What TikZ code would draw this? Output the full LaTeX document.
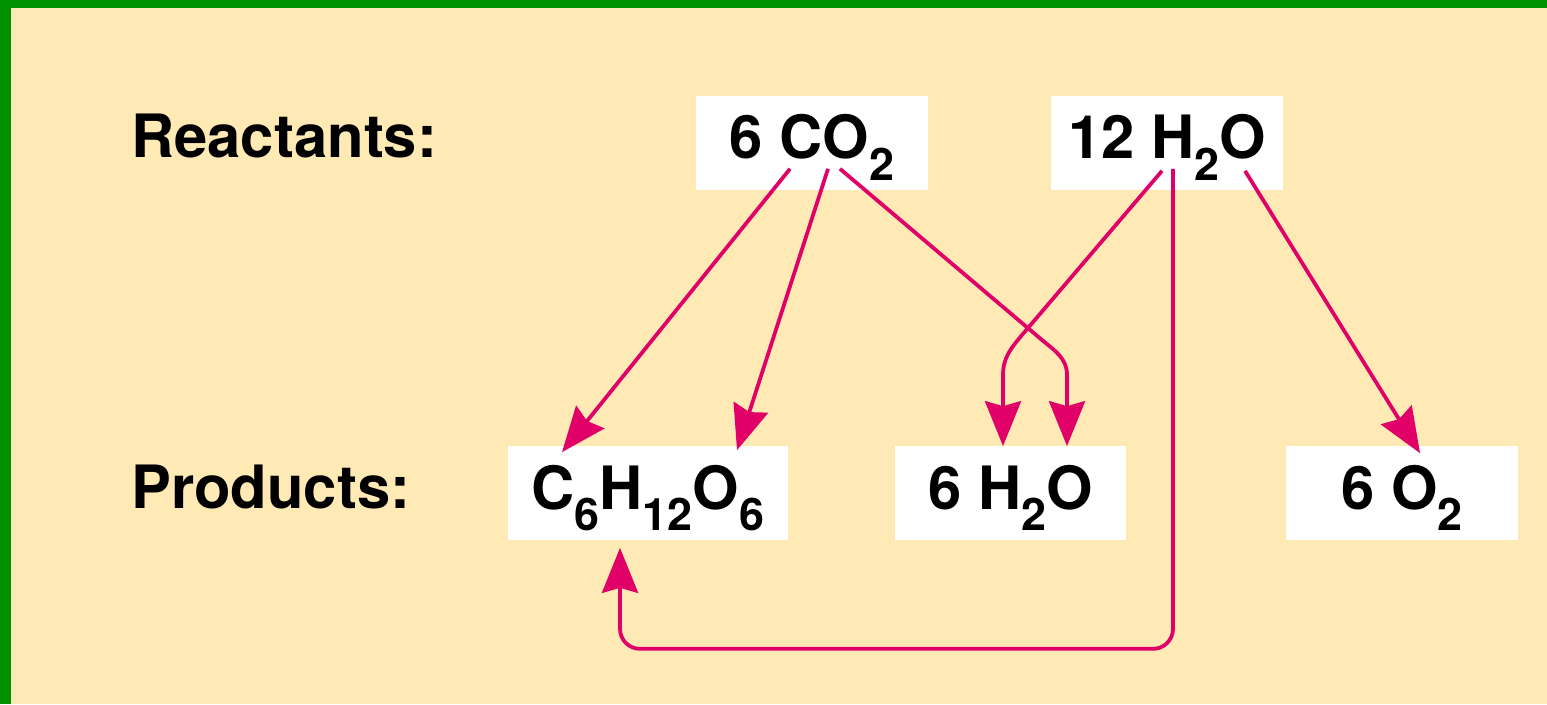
\documentclass[tikz,border=0pt]{standalone}
\usepackage{fontspec}
\newfontfamily\heros{TeX Gyre Heros}
\usetikzlibrary{arrows.meta}
\definecolor{paper}{RGB}{255,234,181}
\definecolor{frame}{RGB}{0,145,0}
\definecolor{arrowred}{RGB}{224,0,104}
\newcommand{\chsub}[1]{\raisebox{-12pt}{\fontsize{25.5}{30}\selectfont #1}}
\tikzset{
    chem/.style={fill=white, inner sep=0pt, minimum width=4.64cm, minimum height=1.9cm,
        text height=0.88cm, text depth=0.24cm, font=\heros\bfseries\fontsize{34}{40}\selectfont},
    side/.style={inner sep=0pt, anchor=base west, font=\heros\bfseries\fontsize{34}{40}\selectfont},
    link/.style={draw=arrowred, line width=0.075cm, -{Stealth[length=0.9cm, width=0.72cm, inset=0.1cm]}}
}
\begin{document}
\begin{tikzpicture}[x=0.02cm, y=0.02cm]
            \useasboundingbox (0, 0) rectangle (1547, 704);
            \fill[paper] (0, 0) rectangle (1547, 704);
            \fill[frame] (0, 0) rectangle (11, 704);
            \fill[frame] (0, 696) rectangle (1547, 704);
            \node[side] (react) at (131, 546) {Reactants:};
            \node[side] (prod) at (131, 196) {Products:};
            \node[chem] (co2) at (812, 561) {6 CO\chsub{2}};
            \node[chem] (wtr) at (1167, 561) {12 H\chsub{2}O};
            \node[chem, minimum width=5.6cm] (glc) at (648, 211) {C\chsub{6}H\chsub{12}O\chsub{6}};
            \node[chem] (h2o) at (1010.5, 211) {6 H\chsub{2}O};
            \node[chem] (o2) at (1402, 211) {6 O\chsub{2}};
            \draw[link] ([shift={(-22, 22)}]co2.south) -- ([shift={(-86, -7)}]glc.north);
            \draw[link] ([shift={(16, 22)}]co2.south) -- ([shift={(89, -5)}]glc.north);
            \draw[link] ([shift={(28, 22)}]co2.south) -- (1042, 364) to[out=-40, in=90] (1067, 329) -- ([shift={(56.5, -1)}]h2o.north);
            \draw[link] ([shift={(-5, 20)}]wtr.south) -- (1022, 369) to[out=-130, in=90] (1003, 329) -- ([shift={(-7.5, -1)}]h2o.north);
            \draw[link, rounded corners=0.4cm] ([shift={(6, 22)}]wtr.south) -- ++(0, -480) -| ([shift={(-28, -7)}]glc.south);
            \draw[link] ([shift={(78, 20)}]wtr.south) -- ([shift={(18, -8)}]o2.north);
        \end{tikzpicture}
\end{document}
